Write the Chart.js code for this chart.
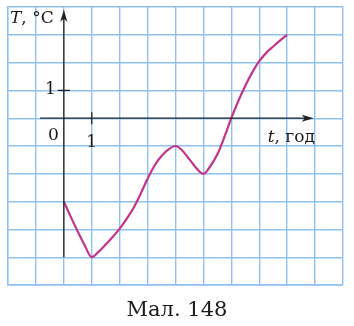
<!DOCTYPE html>
<html><head><meta charset="utf-8">
<script src="https://cdn.jsdelivr.net/npm/chart.js@4/dist/chart.umd.min.js"></script>
<style>html,body{margin:0;padding:0;background:#fff}#c{display:block}</style>
</head><body>
<canvas id="c" width="354" height="326"></canvas>
<script>
const tValues = [0, 0.25, 0.5, 0.75, 1, 1.25, 1.5, 1.75, 2, 2.25, 2.5, 2.75, 3, 3.25, 3.5, 3.75, 4,
                 4.25, 4.5, 4.75, 5, 5.25, 5.5, 5.75, 6, 6.25, 6.5, 6.75, 7, 7.25, 7.5, 7.75, 8];
const tempValues = [-3, -3.55, -4.08, -4.58, -5, -4.8, -4.54, -4.27, -3.97, -3.62, -3.22, -2.72, -2.18, -1.7, -1.36, -1.12, -1,
                    -1.17, -1.48, -1.8, -2, -1.72, -1.3, -0.68, 0, 0.62, 1.17, 1.65, 2.05, 2.35, 2.58, 2.8, 3];
const xTickLabels = ["1"];
const yTickLabels = ["1"];
const xLabel = "t, год";
const yLabel = "T, °C";
const caption = "Мал. 148";

const points = tValues.map((t, i) => ({x: t, y: tempValues[i]}));
const SERIF = '"DejaVu Serif", "Liberation Serif", serif';

const decor = {
  id: 'decor',
  afterDraw(chart) {
    const ctx = chart.ctx, xs = chart.scales.x, ys = chart.scales.y;
    const x0 = xs.getPixelForValue(0), y0 = ys.getPixelForValue(0);
    ctx.save();
    ctx.strokeStyle = '#222'; ctx.fillStyle = '#222'; ctx.lineWidth = 1.3;
    const xa = xs.getPixelForValue(-0.85), xb = xs.getPixelForValue(8.95);
    ctx.beginPath(); ctx.moveTo(xa, y0); ctx.lineTo(xb - 4, y0); ctx.stroke();
    ctx.beginPath(); ctx.moveTo(xb, y0); ctx.lineTo(xb - 12, y0 - 3.5); ctx.lineTo(xb - 9, y0); ctx.lineTo(xb - 12, y0 + 3.5); ctx.closePath(); ctx.fill();
    const ya = ys.getPixelForValue(-5), yb = ys.getPixelForValue(3.9);
    ctx.beginPath(); ctx.moveTo(x0, ya); ctx.lineTo(x0, yb + 4); ctx.stroke();
    ctx.beginPath(); ctx.moveTo(x0, yb); ctx.lineTo(x0 - 3.5, yb + 12); ctx.lineTo(x0, yb + 9); ctx.lineTo(x0 + 3.5, yb + 12); ctx.closePath(); ctx.fill();
    const x1 = xs.getPixelForValue(1), y1 = ys.getPixelForValue(1);
    ctx.beginPath(); ctx.moveTo(x1, y0 - 6); ctx.lineTo(x1, y0 + 6); ctx.stroke();
    ctx.beginPath(); ctx.moveTo(x0 - 6, y1); ctx.lineTo(x0 + 6, y1); ctx.stroke();
    ctx.fillStyle = '#1a1a1a';
    ctx.font = '17px ' + SERIF;
    ctx.textBaseline = 'middle';
    ctx.textAlign = 'right';
    ctx.fillText(yTickLabels[0], x0 - 8, y1 - 1);
    ctx.fillText('0', x0 - 5, y0 + 17);
    ctx.textAlign = 'center';
    ctx.fillText(xTickLabels[0], x1, y0 + 24);
    ctx.textAlign = 'left';
    ctx.font = 'italic 17px ' + SERIF;
    const xlx = xs.getPixelForValue(7.3);
    ctx.fillText('t', xlx, y0 + 19);
    let w = ctx.measureText('t').width;
    ctx.font = '17px ' + SERIF;
    ctx.fillText(xLabel.slice(1), xlx + w, y0 + 19);
    ctx.font = 'italic 17px ' + SERIF;
    const ylx = 10, yly = ys.getPixelForValue(3.6);
    ctx.fillText('T', ylx, yly);
    w = ctx.measureText('T').width;
    ctx.font = '17px ' + SERIF;
    ctx.fillText(yLabel.slice(1), ylx + w, yly);
    ctx.textAlign = 'center';
    ctx.font = '21px ' + SERIF;
    ctx.fillText(caption, 177, 311);
    ctx.restore();
  }
};

new Chart(document.getElementById('c'), {
  type: 'scatter',
  data: { datasets: [{
    data: points, showLine: true, borderColor: '#c2338a', borderWidth: 2.2,
    pointRadius: 0, cubicInterpolationMode: 'monotone', fill: false
  }]},
  options: {
    responsive: false, animation: false,
    layout: { padding: { left: 8, right: 11, top: 7, bottom: 41 } },
    plugins: { legend: { display: false }, tooltip: { enabled: false } },
    scales: {
      x: { type: 'linear', min: -2, max: 10,
        ticks: { display: false, stepSize: 1 },
        grid: { color: '#8ec1ee', lineWidth: 1.4, drawTicks: false },
        border: { display: true, color: '#8ec1ee', width: 1.4 } },
      y: { type: 'linear', min: -6, max: 4,
        ticks: { display: false, stepSize: 1 },
        grid: { color: '#8ec1ee', lineWidth: 1.4, drawTicks: false },
        border: { display: true, color: '#8ec1ee', width: 1.4 } }
    }
  },
  plugins: [decor]
});
</script>
</body></html>
